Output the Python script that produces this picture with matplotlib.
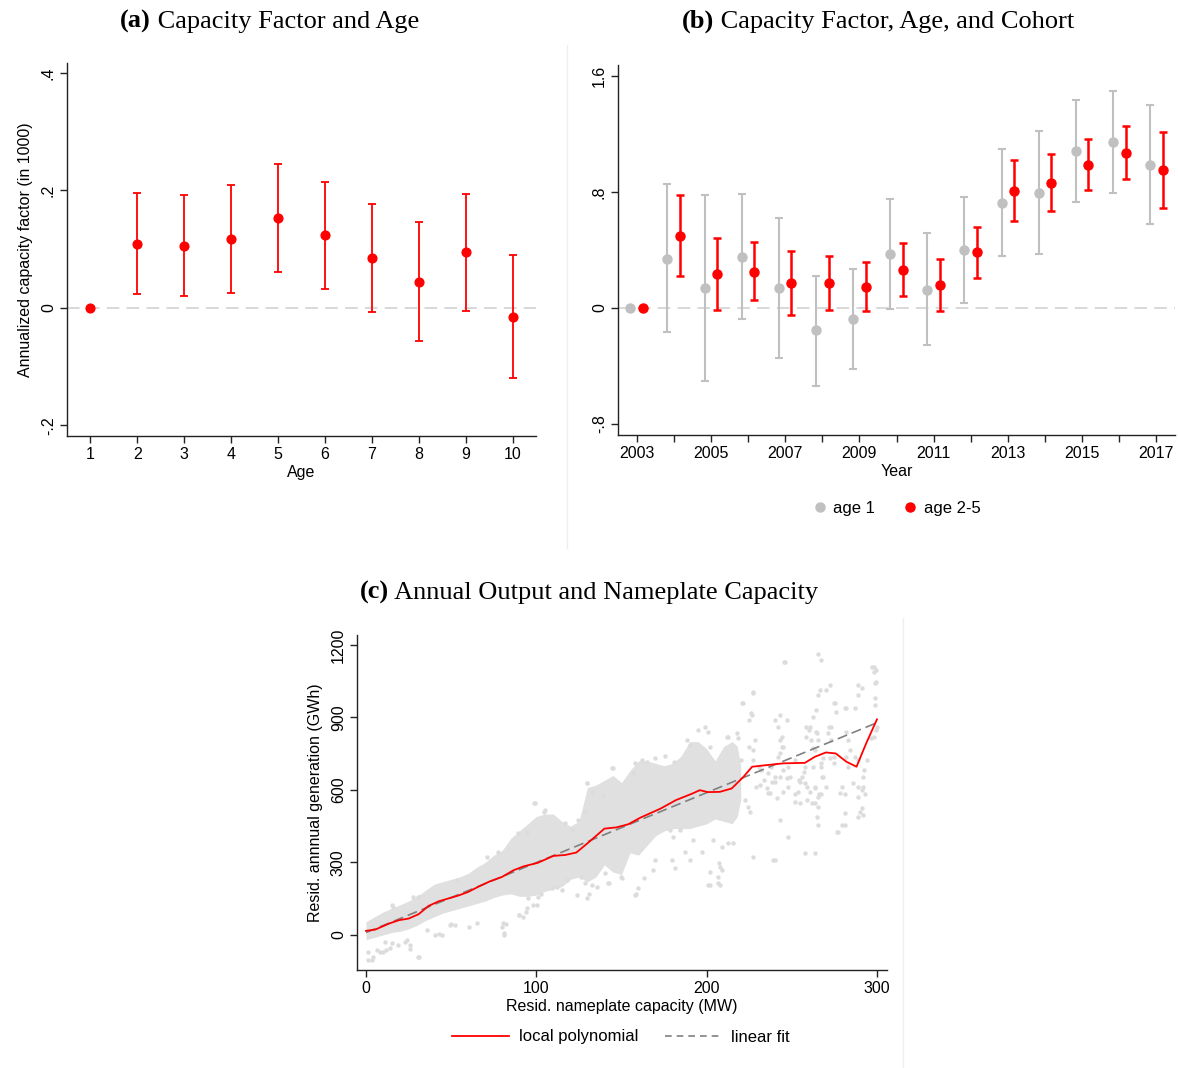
import numpy as np
import matplotlib
matplotlib.use('Agg')
import matplotlib.pyplot as plt
from matplotlib.lines import Line2D

plt.rcParams['font.family'] = ['Liberation Sans', 'DejaVu Sans']

W, H = 1178, 1068
RED = '#ff0000'
GREY = '#c0c0c0'

# ---- panel (a): capacity factor by age
age = [1, 2, 3, 4, 5, 6, 7, 8, 9, 10]
cf_age = [0, 0.109, 0.106, 0.117, 0.153, 0.124, 0.085, 0.045, 0.095, -0.015]
cf_age_lo = [0, 0.023, 0.020, 0.026, 0.062, 0.033, -0.007, -0.056, -0.005, -0.120]
cf_age_hi = [0, 0.195, 0.193, 0.210, 0.245, 0.214, 0.177, 0.147, 0.194, 0.090]

# ---- panel (b): capacity factor by cohort year
years = list(range(2003, 2018))
age1 = [0, 0.341, 0.136, 0.353, 0.136, -0.154, -0.076, 0.369, 0.127, 0.399, 0.726, 0.793, 1.083, 1.143, 0.987]
age1_lo = [0, -0.168, -0.502, -0.074, -0.343, -0.535, -0.422, -0.007, -0.258, 0.037, 0.362, 0.371, 0.733, 0.793, 0.576]
age1_hi = [0, 0.855, 0.777, 0.784, 0.618, 0.224, 0.270, 0.749, 0.514, 0.763, 1.097, 1.222, 1.436, 1.494, 1.399]
age25 = [0, 0.500, 0.233, 0.251, 0.173, 0.171, 0.143, 0.265, 0.157, 0.385, 0.809, 0.864, 0.987, 1.072, 0.952]
age25_lo = [0, 0.224, -0.012, 0.055, -0.046, -0.016, -0.023, 0.085, -0.018, 0.207, 0.597, 0.666, 0.811, 0.892, 0.692]
age25_hi = [0, 0.777, 0.482, 0.452, 0.394, 0.360, 0.316, 0.447, 0.337, 0.562, 1.021, 1.063, 1.164, 1.254, 1.212]

# ---- panel (c): output vs nameplate capacity
poly_x = [0, 5.3, 13.5, 19.3, 25.1, 30.9, 36.7, 42.6, 48.4, 54.2, 60, 65.8, 72.8, 79.8, 86.7, 92.6,
          100.7, 110, 117, 123.5, 131, 140, 147, 154, 161, 173, 182, 191.6, 196, 200.7, 207.7,
          214.7, 221.6, 226.7, 233, 245, 257.7, 263.5, 270, 275.8, 282, 288, 293.7, 300]
poly_y = [17, 22, 47, 61, 68, 86, 120, 139, 151, 163, 178, 199, 222, 240, 268, 284,
          298, 327, 331, 341, 385, 440, 445, 458, 485, 523, 558, 585, 599, 591, 592,
          606, 654, 696, 701, 710, 712, 737, 755, 751, 717, 696, 793, 892]
fit_x = [0, 300]
fit_y = [10, 878]

# dense part of the cloud (lower / upper edge)
core_x = [0, 5, 10, 15, 20, 25, 30, 35, 40, 45, 50, 55, 60, 65, 70, 75, 80, 85, 90, 95, 100,
          105, 110, 115, 120, 125, 130, 135, 140, 145, 150, 155, 160, 165, 170, 175, 180,
          185, 190, 195, 200, 205, 210, 215, 218, 220]
core_lo = [-20, -10, 0, 10, 15, 25, 40, 60, 75, 90, 100, 110, 120, 130, 140, 155, 165, 170, 160,
           160, 165, 180, 190, 200, 230, 240, 220, 240, 290, 260, 250, 340, 330, 370, 410, 430,
           440, 440, 440, 450, 460, 480, 470, 460, 490, 560]
core_hi = [55, 75, 95, 110, 125, 140, 160, 185, 210, 220, 230, 240, 255, 280, 300, 330, 350, 400,
           430, 460, 490, 500, 500, 470, 450, 470, 610, 620, 640, 660, 630, 680, 720, 720, 710,
           700, 710, 740, 800, 800, 770, 720, 780, 800, 780, 700]

# sparse points outside the dense part
pts_x = [1, 4, 8, 12, 19, 26, 31, 24, 43, 50, 81, 82, 90, 94, 98, 101, 15, 31,
         1.4, 3.3, 6.3, 10.2, 11.2, 14.1, 15.1, 22.9, 25.8, 30.7, 40.5, 44.4, 35.6, 49.3, 52.3,
         60.5, 65, 27.8, 30.7, 16, 53.3, 70.9, 77.7,
         80.6, 81.2, 79.7, 89.8, 92.4, 94.4, 95.3, 100.2, 109, 114.9, 123.7, 128.6, 129.6, 132.5,
         140.3, 142.3, 150.1, 158, 159.5, 98.8, 104.7, 129.6, 132.5, 144.3, 139.4, 128.6, 157,
         161.9, 158, 89.4, 94.4, 116.9, 120.8, 124.7, 99.5, 105, 130, 145,
         227.4, 225.1, 220.6, 226.5, 228.4, 227.4, 227.4, 199.1, 201, 195.1, 188.3, 190.3, 202,
         217.7, 212.7, 163.2, 168.7, 169.7, 181.4, 179.5, 187.3, 190.3, 202, 206.9, 201, 207.9,
         207.9, 203.9, 212.7, 215.7, 208.9, 197.1, 192.2, 184.4, 180.4, 178.5, 225.5, 231.4,
         236.3, 164.8, 169.7, 175.6, 180.6, 211.7, 218.6, 206.5, 202, 209, 207.5, 142.6, 149.5,
         158.8, 131, 135.6, 126, 118, 112, 103,
         245.4, 265.6, 267.2, 297, 298, 299, 299, 299, 300, 296.5, 289, 291, 289, 287, 281,
         275.1, 276, 272.2, 270.2, 266.3, 265.3, 264.3, 262.3, 260.4, 258.4, 258.4, 264.3,
         265.3, 271.1, 273, 281.9, 282.8, 262.3, 268.5, 272.5, 266.9, 262.3, 268.5, 256.9, 255,
         257.8, 253.9, 251.9, 254.8, 260.7, 263.6, 265.6, 263.6, 265.6, 264.6, 265.6, 263.6,
         276.4, 279.3, 279.3, 278.3, 282.8, 281.9, 289, 291, 289, 291, 291.9, 291.9, 239.2,
         240.2, 243.1, 242.1, 243.1, 244.1, 242.1, 243.1, 240.2, 238.2, 237.3, 241.2, 245.1,
         247.1, 246, 227, 240, 257.7, 277, 281, 289, 290, 226, 243, 247.7, 262, 267, 281, 286,
         292, 293, 281, 240, 245, 248, 252, 235.6, 238, 242.8, 245, 244, 247, 252, 260, 261,
         264.7, 263.5, 267, 268, 270, 275, 271.6, 273, 275, 284, 287, 292.6, 289, 294, 298,
         299.5, 231, 233.5, 229, 224, 222.8, 256, 259, 254, 249, 263.5, 266, 259, 257.7, 248,
         236, 232, 227, 225, 220, 298, 299.5, 299.5, 282, 275, 221.6]
pts_y = [-105, -91, -70, -64, -43, -57, -91, -22, 6, 47, -1, 47, 81, 95, 123, 157, 123, 157,
         -69, -103, -62, -69, -28, -55, -34, -28, -41, -90, 0, 0, 21, 41, 41,
         34, 48, 158, 158, 117, 228, 324, 345,
         48, 7, 34, 83, 76, 110, 152, 124, 193, 186, 165, 214, 152, 207,
         255, 214, 235, 165, 193, 545, 510, 628, 593, 690, 579, 510, 669,
         724, 710, 421, 427, 462, 434, 476, 544, 516, 627, 689,
         1000, 890, 959, 910, 807, 765, 324, 862, 841, 848, 807, 786, 779,
         834, 820, 235, 269, 310, 276, 310, 345, 310, 262, 241, 207, 207,
         283, 393, 379, 379, 365, 345, 393, 434, 407, 434, 510, 621,
         586, 717, 731, 741, 717, 820, 813, 213, 206, 268, 296, 213, 240,
         171, 171, 199, 240, 226, 199, 171,
         1131, 1163, 1138, 1107, 1089, 1041, 979, 952, 862, 814, 1034, 1021, 993, 938, 938,
         959, 924, 1034, 1014, 1014, 993, 931, 903, 862, 862, 820, 841,
         807, 834, 862, 841, 807, 772, 731, 731, 696, 696, 655, 676, 634,
         628, 593, 551, 545, 593, 607, 572, 545, 531, 489, 455, 338,
         427, 455, 614, 586, 696, 737, 614, 600, 572, 524, 496, 655, 310,
         889, 910, 862, 807, 779, 738, 655, 634, 634, 586, 565, 593,
         648, 1131, 1007, 309, 337, 427, 454, 489, 510, 917, 475, 406, 544, 585, 585, 627,
         613, 585, 503, 655, 682, 613, 585, 606, 696, 751, 779, 820, 889, 724, 848, 806,
         834, 765, 710, 655, 613, 710, 862, 806, 737, 765, 737, 682, 724, 724, 820,
         848, 696, 641, 613, 530, 558, 655, 613, 641, 655, 613, 585, 558, 696, 696,
         668, 682, 724, 779, 724, 1110, 1097, 1048, 938, 958, 958]


def add_ax(l, t, r, b):
    return fig.add_axes([l / W, 1 - b / H, (r - l) / W, (b - t) / H])


def stata(ax, ylabels):
    for s in ['top', 'right']:
        ax.spines[s].set_visible(False)
    for s in ['left', 'bottom']:
        ax.spines[s].set_linewidth(1.0)
        ax.spines[s].set_color('#222222')
    ax.tick_params(direction='out', length=5, width=1, color='#222222', labelsize=11.5, pad=3)
    ax.set_yticklabels(ylabels, rotation=90, va='center')


def fig_title(px, py, bold, rest):
    t = fig.text(px / W, 1 - py / H, bold, fontfamily='Liberation Serif', fontweight='bold',
                 fontsize=19, va='baseline', ha='left')
    fig.axes[0].annotate(rest, xy=(1, 0), xycoords=t, fontfamily='Liberation Serif',
                         fontsize=19, va='bottom', ha='left')


fig = plt.figure(figsize=(W / 100, H / 100), dpi=100)

# ---------- (a)
ax = add_ax(67, 63, 536, 436)
ax.axhline(0, color='#d6d6d6', lw=1.3, dashes=(7, 4), zorder=0)
ea = np.array(cf_age)
ax.errorbar(age, ea, yerr=[ea - np.array(cf_age_lo), np.array(cf_age_hi) - ea], fmt='o',
            color=RED, ms=6.3, capsize=3, elinewidth=1.3, capthick=1.3)
ax.set_xlim(0.5, 10.5)
ax.set_ylim(-0.218, 0.417)
ax.set_xticks(age)
ax.set_yticks([-0.2, 0, 0.2, 0.4])
stata(ax, ['-.2', '0', '.2', '.4'])
ax.set_xlabel('Age', fontsize=11.5, labelpad=2)
ax.set_ylabel('Annualized capacity factor (in 1000)', fontsize=11.5, labelpad=6)

# ---------- (b)
bx = add_ax(618, 65, 1175, 435)
bx.axhline(0, color='#d6d6d6', lw=1.3, dashes=(7, 4), zorder=0)
yr = np.array(years)
e1 = np.array(age1)
e2 = np.array(age25)
bx.errorbar(yr - 0.17, e1, yerr=[e1 - np.array(age1_lo), np.array(age1_hi) - e1], fmt='o',
            color=GREY, ms=6.5, capsize=3, elinewidth=1.5, capthick=1.5)
bx.errorbar(yr + 0.17, e2, yerr=[e2 - np.array(age25_lo), np.array(age25_hi) - e2], fmt='o',
            color=RED, ms=6.5, capsize=3, elinewidth=1.8, capthick=1.8)
bx.set_xlim(2002.5, 2017.5)
bx.set_ylim(-0.876, 1.676)
bx.set_xticks(years)
bx.set_xticklabels([str(y) if y % 2 == 1 else '' for y in years])
bx.set_yticks([-0.8, 0, 0.8, 1.6])
stata(bx, ['-.8', '0', '.8', '1.6'])
bx.set_xlabel('Year', fontsize=11.5, labelpad=2)
fig.legend(handles=[Line2D([], [], marker='o', ls='', color=GREY, ms=6.5),
                    Line2D([], [], marker='o', ls='', color=RED, ms=6.5)],
           labels=['age 1', 'age 2-5'], loc='center', bbox_to_anchor=(896 / W, 1 - 508 / H),
           ncol=2, frameon=False, fontsize=12, handletextpad=0.3, columnspacing=1.6,
           handlelength=1.0)

# ---------- (c)
cx = add_ax(357, 635, 887, 970)
cx.fill_between(core_x, core_lo, core_hi, color='#e0e0e0', lw=0, zorder=1)
cx.scatter(pts_x, pts_y, s=10, color='#dcdcdc', lw=0, zorder=1)
cx.plot(fit_x, fit_y, color='#808080', lw=1.2, dashes=(6, 3), zorder=2)
cx.plot(poly_x, poly_y, color=RED, lw=1.3, zorder=3)
cx.set_xlim(-5.3, 305.9)
cx.set_ylim(-145, 1241)
cx.set_xticks([0, 100, 200, 300])
cx.set_yticks([0, 300, 600, 900, 1200])
stata(cx, ['0', '300', '600', '900', '1200'])
cx.set_xlabel('Resid. nameplate capacity (MW)', fontsize=11.5, labelpad=2)
cx.set_ylabel('Resid. annnual generation (GWh)', fontsize=11.5, labelpad=6)
fig.legend(handles=[Line2D([], [], color=RED, lw=1.3),
                    Line2D([], [], color='#808080', lw=1.2, dashes=(4, 3))],
           labels=['local polynomial', 'linear fit'], loc='center',
           bbox_to_anchor=(621 / W, 1 - 1037 / H), ncol=2, frameon=False, fontsize=12,
           handlelength=3.4, handletextpad=0.6, columnspacing=1.6)

# graph-region borders
fig.add_artist(Line2D([567 / W, 567 / W], [1 - 45 / H, 1 - 548 / H], color='#eeeeee', lw=1))
fig.add_artist(Line2D([903 / W, 903 / W], [1 - 618 / H, 0], color='#eeeeee', lw=1))

fig_title(120, 28, '(a)', ' Capacity Factor and Age')
fig_title(682, 28, '(b)', ' Capacity Factor, Age, and Cohort')
fig_title(360, 599, '(c)', ' Annual Output and Nameplate Capacity')

fig.savefig('out.png', dpi=100)
